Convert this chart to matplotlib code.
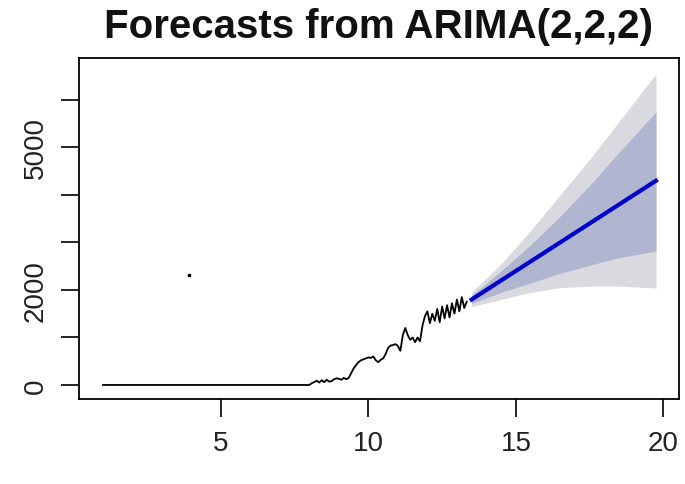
import matplotlib
matplotlib.use("Agg")
import matplotlib.pyplot as plt
import numpy as np

# ------------------------------------------------------------
#  data (monthly series, time = 1 + i/12)
# ------------------------------------------------------------
FREQ = 12
START = 1.0

# flat part: 85 zero months, then observed values
n_zero = 85
obs_tail = [40, 60, 90, 50, 100, 60, 110, 70, 80, 120, 140, 130, 110, 150, 120,
            150, 250, 350, 420, 480, 520, 540, 560, 580, 570, 600, 520, 480,
            530, 560, 650, 780, 830, 840, 860, 820, 720, 1050, 1200, 1050, 950,
            1000, 900, 1000, 920, 1250, 1450, 1550, 1300, 1500, 1350, 1600,
            1320, 1650, 1400, 1680, 1420, 1720, 1500, 1800, 1550, 1850, 1620,
            1750]
observed = [0] * n_zero + obs_tail

# single isolated observation
lone_x = [3.92]
lone_y = [2316]

# forecast read at a few time points
fc_time = [13.5, 14.5, 15.5, 16.5, 17.5, 18.5, 19.75]
fc_mean = [1800, 2200, 2600, 3000, 3400, 3800, 4300]
lo80 = [1720, 1950, 2150, 2350, 2520, 2680, 2820]
hi80 = [1880, 2400, 2950, 3550, 4200, 4900, 5750]
lo95 = [1650, 1800, 1950, 2050, 2080, 2080, 2040]
hi95 = [1950, 2550, 3250, 4000, 4750, 5550, 6550]

y_ticks = [0, 1000, 2000, 3000, 4000, 5000, 6000]
y_labels = ["0", "", "2000", "", "", "5000", ""]
x_ticks = [5, 10, 15, 20]

# ------------------------------------------------------------
#  plot
# ------------------------------------------------------------
plt.rcParams["font.family"] = ["Liberation Sans", "DejaVu Sans"]

fig = plt.figure(figsize=(6.85, 4.85), dpi=100)
ax = fig.add_axes([0.1153, 0.1753, 0.8759, 0.7031])

t_obs = START + np.arange(len(observed)) / FREQ

ax.fill_between(fc_time, lo95, hi95, color="#d9d9e0", linewidth=0)
ax.fill_between(fc_time, lo80, hi80, color="#b0b5d0", linewidth=0)
ax.plot(t_obs, observed, color="black", linewidth=1.3)
ax.plot(fc_time, fc_mean, color="#0000cc", linewidth=3)
ax.plot(lone_x, lone_y, "s", color="black", markersize=2)

ax.set_xlim(0.186, 20.53)
ax.set_ylim(-295, 6884)

ax.set_xticks(x_ticks)
ax.set_xticklabels([str(v) for v in x_ticks])
ax.set_yticks(y_ticks)
ax.set_yticklabels(y_labels, rotation=90, va="center")

ax.tick_params(axis="both", length=13, width=1.2, labelsize=20,
               pad=9, colors="black", labelcolor="#222222")
for s in ax.spines.values():
    s.set_linewidth(1.3)

# title centred over the plot region, like R does
fig.text(0.553, 0.945, "Forecasts from ARIMA(2,2,2)", ha="center", va="center",
         fontsize=29, fontweight="bold", color="#111111")

fig.savefig("out.png", dpi=100)
